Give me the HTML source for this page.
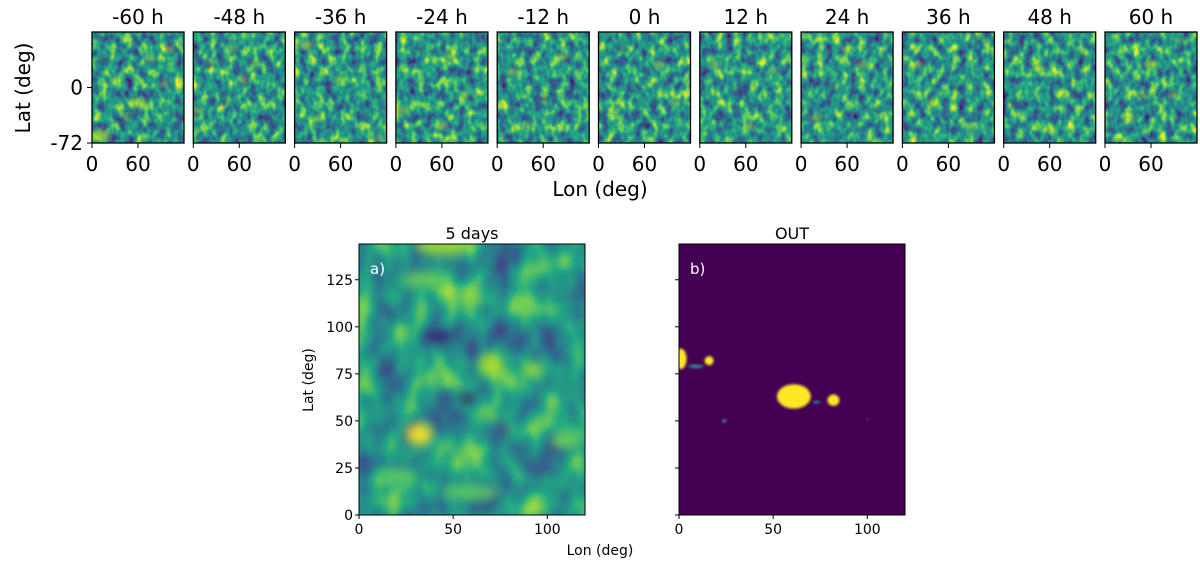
<!DOCTYPE html>
<html><head><meta charset="utf-8">
<style>
body{margin:0;background:#fff;width:1200px;height:560px;overflow:hidden}
svg text{font-family:"DejaVu Sans","Liberation Sans",sans-serif;fill:#000}
</style></head>
<body>
<svg id="fig" width="1200" height="560" xmlns="http://www.w3.org/2000/svg">
<defs id="defs">
<filter id="blurS" x="-50%" y="-50%" width="200%" height="200%" color-interpolation-filters="sRGB"><feGaussianBlur stdDeviation="2.5"/></filter>
<filter id="blurA" x="-50%" y="-50%" width="200%" height="200%" color-interpolation-filters="sRGB"><feGaussianBlur stdDeviation="5"/></filter>
<filter id="blurB" x="-50%" y="-50%" width="200%" height="200%" color-interpolation-filters="sRGB"><feGaussianBlur stdDeviation="1.2"/></filter>
</defs>
</svg>
<script>
const panelTitles=["-60 h","-48 h","-36 h","-24 h","-12 h","0 h","12 h","24 h","36 h","48 h","60 h"];
const smallLatTicks=[0,-72];
const smallLonTicks=[0,60];
// small panel blobs: [lon, lat, radiusDeg, type] type 1=yellow,0=purple
const smallBlobs=[
 [[10,-62,12,1],[75,38,6,1],[15,35,8,0],[50,-35,8,0],[40,-45,6,0],[60,-20,10,1],[100,50,6,1],[95,5,5,1],[30,10,6,1]],
 [[5,-30,6,1],[80,30,5,1],[40,-20,6,0],[20,30,7,0],[65,10,6,1],[100,-45,6,0],[50,50,5,1]],
 [[15,55,8,1],[50,-10,5,0],[60,10,7,1],[90,-40,6,0],[110,-65,5,1],[30,-40,6,1],[80,30,5,0]],
 [[10,-30,7,1],[40,0,5,0],[70,40,6,1],[90,-10,6,1],[30,50,6,0],[60,-50,7,1]],
 [[20,20,6,1],[60,-15,7,0],[85,40,6,1],[40,-50,6,1],[100,0,6,0]],
 [[50,0,6,0],[20,-30,6,1],[80,30,6,1],[60,-50,5,0],[100,-20,5,1],[30,50,6,0]],
 [[55,0,8,0],[65,-50,6,1],[20,30,6,1],[95,20,5,1],[30,-40,6,0]],
 [[40,0,6,0],[20,-40,6,1],[80,30,6,1],[100,-30,5,0],[60,50,6,1]],
 [[40,-20,7,1],[20,30,6,1],[70,0,6,0],[100,60,6,0],[90,-50,6,1]],
 [[15,-20,7,0],[45,25,7,1],[80,-10,6,1],[60,-55,6,1],[100,40,5,0]],
 [[60,30,8,1],[30,-40,7,1],[90,-10,6,1],[50,-10,6,0],[100,60,5,0]]
];
const bigLatTicks=[0,25,50,75,100,125];
const bigLonTicks=[0,50,100];
// panel a blobs: [lon, lat, rxDeg, ryDeg, color]
const blobsA=[
 [32,43,7,6,"#fde725"],[57,62,3,3,"#440154"],[42,95,7,3,"#3b0f70"],[70,80,6,6,"#b5de2b"],
 [92,77,5,4,"#a0da39"],[45,143,15,5,"#a0da39"],[35,125,12,4,"#6ece58"],[60,115,5,4,"#8fd744"],
 [90,110,6,3,"#6ece58"],[45,62,5,4,"#3b528b"],[75,45,5,5,"#3b528b"],[95,25,8,4,"#3b528b"],
 [20,20,10,5,"#5ec962"],[60,12,15,4,"#5ec962"],[110,40,8,5,"#6ece58"]
];
// panel b blobs: [lon, lat, rxDeg, ryDeg, color]
const blobsB=[
 [61,63,9,6.5,"#fde725"],[82,61,3.2,3,"#fde725"],[1,83,3,5.5,"#fde725"],[16,82,2.4,2.4,"#fde725"],
 [9,79,4,1,"#2a8a8a"],[73,60,2,0.7,"#2a8a8a"],[24,50,1,0.8,"#35b779"],[100,51,0.5,0.5,"#21918c"]
];
const NS="http://www.w3.org/2000/svg";
const svg=document.getElementById("fig");
const defs=document.getElementById("defs");
function el(t,a,p){const e=document.createElementNS(NS,t);for(const k in a)e.setAttribute(k,a[k]);(p||svg).appendChild(e);return e;}
function txt(x,y,s,size,anchor,p,extra){const e=el("text",Object.assign({x:x,y:y,"font-size":size,"text-anchor":anchor||"middle"},extra||{}),p);e.textContent=s;return e;}
function noiseFilter(id,freq,seed,slope){
 const f=el("filter",{id:id,x:"0",y:"0",width:"100%",height:"100%","color-interpolation-filters":"sRGB"},defs);
 el("feTurbulence",{type:"fractalNoise",baseFrequency:freq,numOctaves:2,seed:seed,result:"t"},f);
 el("feColorMatrix",{type:"matrix",values:"1 0 0 0 0 1 0 0 0 0 1 0 0 0 0 0 0 0 0 1"},f);
 const ct=el("feComponentTransfer",{},f);
 const ic=(0.5-0.5*slope)+0.04;
 el("feFuncR",{type:"linear",slope:slope,intercept:ic},ct);
 el("feFuncG",{type:"linear",slope:slope,intercept:ic},ct);
 el("feFuncB",{type:"linear",slope:slope,intercept:ic},ct);
 const vt=el("feComponentTransfer",{},f);
 el("feFuncR",{type:"table",tableValues:"0.267 0.255 0.165 0.133 0.478 0.992"},vt);
 el("feFuncG",{type:"table",tableValues:"0.005 0.267 0.471 0.659 0.820 0.906"},vt);
 el("feFuncB",{type:"table",tableValues:"0.329 0.529 0.557 0.518 0.318 0.145"},vt);
 el("feFuncA",{type:"table",tableValues:"1 1"},vt);
}

// small panels
const sx0=92,sdx=101.3,sw=92,sy=32,sh=111;
panelTitles.forEach((t,i)=>{
 const x0=sx0+i*sdx;
 noiseFilter("ns"+i,"0.12 0.09",i*7+3,1.25);
 const g=el("g",{});
 
 
 const X=l=>x0+l/120*sw, Y=la=>sy+(72-la)/144*sh;
 const cp=el("clipPath",{id:"cs"+i},g);el("rect",{x:x0,y:sy,width:sw,height:sh},cp);
 const inner=el("g",{"clip-path":"url(#cs"+i+")"},g);
 el("rect",{x:x0,y:sy,width:sw,height:sh,fill:"#2a8c87",filter:"url(#ns"+i+")"},inner);
 const bg=el("g",{filter:"url(#blurS)",opacity:0.6},inner);
 smallBlobs[i].forEach(b=>{
  const c=el("ellipse",{cx:X(b[0]),cy:Y(b[1]),rx:b[2]/120*sw*1.1,ry:b[2]/144*sh*0.6,fill:b[3]?"#c8e020":"#3b2a7a"},bg);
  
  
 });
 el("rect",{x:x0,y:sy,width:sw,height:sh,fill:"none",stroke:"#000","stroke-width":1.3},g);
 const tt=txt(x0+sw/2,24,t,20,"middle",g);
 
 
 smallLonTicks.forEach(v=>{el("line",{x1:X(v),x2:X(v),y1:sy+sh,y2:sy+sh+5,stroke:"#000"},g);txt(X(v),sy+sh+28,String(v),20,"middle",g);});
 if(i===0) smallLatTicks.forEach(v=>{el("line",{x1:x0-5,x2:x0,y1:Y(v),y2:Y(v),stroke:"#000"},g);txt(x0-9,Y(v)+7,String(v),20,"end",g);});
});
const ly=txt(30,88,"Lat (deg)",20,"middle",null,{transform:"rotate(-90 30 88)"});

const lx=txt(600,196,"Lon (deg)",20,"middle");


// big panels
function bigPanel(x0,name,title,label,bg,blobs,filter,showLabels,noise){
 const y0=244,w=226,h=271;
 const X=l=>x0+l/120*w, Y=la=>y0+h-la/144*h;
 const g=el("g",{});
 
 
 const cp=el("clipPath",{id:"c"+name},g);el("rect",{x:x0,y:y0,width:w,height:h},cp);
 const inner=el("g",{"clip-path":"url(#c"+name+")"},g);
 const r=el("rect",{x:x0,y:y0,width:w,height:h,fill:bg},inner);
 if(noise){noiseFilter("nA","0.035 0.025",11,0.85);r.setAttribute("filter","url(#nA)");}
 const bgG=el("g",{filter:"url(#"+filter+")",opacity:noise?0.9:1},inner);
 blobs.forEach(b=>{
  const c=el("ellipse",{cx:X(b[0]),cy:Y(b[1]),rx:b[2]/120*w,ry:b[3]/144*h,fill:b[4]},bgG);
  
  
 });
 el("rect",{x:x0,y:y0,width:w,height:h,fill:"none",stroke:"#000","stroke-width":1}, g);
 txt(x0+w/2,239,title,16,"middle",g);
 txt(x0+11,274,label,15,"start",g,{style:"fill:#fff"});
 bigLonTicks.forEach(v=>{el("line",{x1:X(v),x2:X(v),y1:y0+h,y2:y0+h+4,stroke:"#000"},g);txt(X(v),y0+h+19,String(v),14,"middle",g);});
 bigLatTicks.forEach(v=>{el("line",{x1:x0-4,x2:x0,y1:Y(v),y2:Y(v),stroke:"#000"},g);if(showLabels)txt(x0-6,Y(v)+5,String(v),14,"end",g);});
}
bigPanel(359,"panel-a","5 days","a)","#2a8a8a",blobsA,"blurA",true,true);
bigPanel(679,"panel-b","OUT","b)","#440154",blobsB,"blurB",false,false);
const by=txt(313,380,"Lat (deg)",14,"middle",null,{transform:"rotate(-90 313 380)"});

const bx=txt(600,555,"Lon (deg)",14,"middle");

</script>
</body></html>
